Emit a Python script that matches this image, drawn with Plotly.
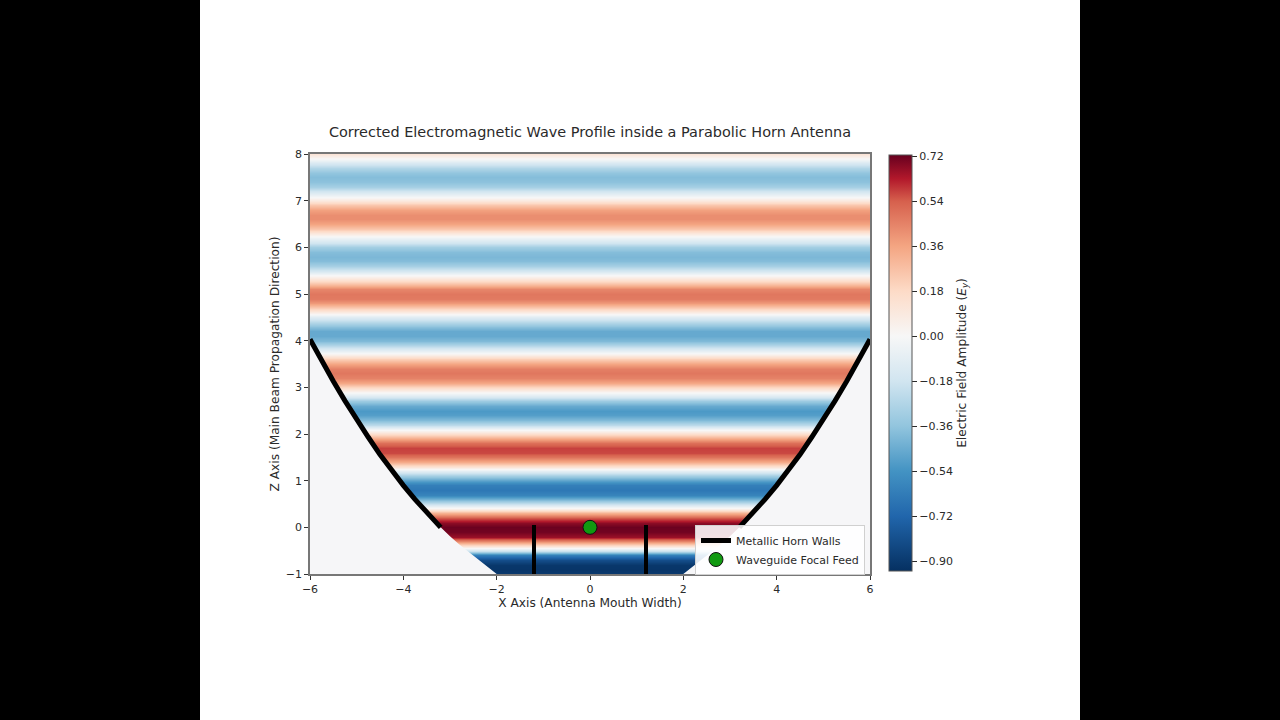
#!/usr/bin/env python3

import numpy as np
import plotly.graph_objects as go

# field value along the beam axis, one reading every 0.1 from z=-1 to z=8
field_amp = [
    -0.90, -0.92, -0.91, -0.82, -0.62, -0.20, 0.14, 0.45, 0.66, 0.71,
    0.72, 0.68, 0.55, 0.32, 0.06, -0.20, -0.44, -0.60, -0.65, -0.62,
    -0.50, -0.32, -0.10, 0.12, 0.34, 0.49, 0.57, 0.58, 0.50, 0.36,
    0.16, -0.04, -0.24, -0.40, -0.50, -0.52, -0.46, -0.33, -0.15, 0.02,
    0.20, 0.35, 0.45, 0.48, 0.46, 0.36, 0.22, 0.06, -0.11, -0.28,
    -0.40, -0.46, -0.46, -0.38, -0.25, -0.11, 0.05, 0.23, 0.39, 0.47,
    0.48, 0.44, 0.30, 0.14, -0.01, -0.16, -0.30, -0.39, -0.41, -0.39,
    -0.31, -0.18, -0.05, 0.11, 0.25, 0.36, 0.42, 0.42, 0.37, 0.25,
    0.11, -0.04, -0.18, -0.30, -0.37, -0.39, -0.36, -0.27, -0.14, -0.01,
    0.12,
]
z_levels = np.linspace(-1, 8, 91)
x_edges = [-6, 6]

# horn wall (right side, left side is the mirror)
wall_x = [3.2, 3.5, 3.75, 4.0, 4.25, 4.5, 4.75, 5.0, 5.25, 5.5, 5.75, 6.0]
wall_z = [0.0, 0.31, 0.60, 0.90, 1.22, 1.56, 1.93, 2.31, 2.71, 3.13, 3.57, 4.03]
# part of the outline below z=0, no wall is drawn there
lower_x = [2.0, 2.2, 2.4, 2.6, 2.8, 3.0]
lower_z = [-1.0, -0.84, -0.70, -0.54, -0.37, -0.19]

stub_x = [-1.2, 1.2]
stub_z = [-1.0, 0.05]
feed_x = [0]
feed_z = [0]

cb_ticks = [-0.90, -0.72, -0.54, -0.36, -0.18, 0.00, 0.18, 0.36, 0.54, 0.72]
cb_labels = ["−0.90", "−0.72", "−0.54", "−0.36", "−0.18", "0.00", "0.18", "0.36", "0.54", "0.72"]
vmin, vmax = -0.94, 0.725

stops = [(-0.94, "#053061"), (-0.72, "#2166ac"), (-0.54, "#4393c3"), (-0.36, "#92c5de"),
         (-0.18, "#d1e5f0"), (0.0, "#f7f7f7"), (0.18, "#fddbc7"), (0.36, "#f4a582"),
         (0.54, "#d6604d"), (0.63, "#b2182b"), (0.725, "#67001f")]
rdbu = [[(v - vmin) / (vmax - vmin), c] for v, c in stops]

# plot area in window pixels
L, R, T, B = 310, 870, 154, 574
W, H = 1280, 720
TEXT = "#2a2a2a"
FONT = "DejaVu Sans"

fig = go.Figure()

fig.add_trace(go.Heatmap(
    z=[[v, v] for v in field_amp], x=x_edges, y=z_levels,
    zmin=vmin, zmax=vmax, colorscale=rdbu, zsmooth="best", showscale=True,
    colorbar=dict(
        x=(889 - L) / (R - L), xanchor="left", xpad=0, ypad=0,
        y=(B - 571) / (B - T), yanchor="bottom", len=416 / (B - T), lenmode="fraction",
        thickness=23, thicknessmode="pixels",
        tickmode="array", tickvals=cb_ticks, ticktext=cb_labels,
        ticks="outside", ticklen=5, tickcolor=TEXT, tickwidth=1,
        tickfont=dict(family=FONT, size=11, color=TEXT),
        outlinecolor="#555555", outlinewidth=1,
        title=dict(text="Electric Field Amplitude (<i>E<sub>y</sub></i>)", side="right",
                   font=dict(family=FONT, size=12.2, color=TEXT)),
    ),
))

# area outside the horn has no field
out_x = lower_x + wall_x
out_z = lower_z + wall_z
for sign in (-1, 1):
    fig.add_trace(go.Scatter(
        x=[sign * v for v in out_x] + [sign * 6, sign * 2],
        y=out_z + [-1, -1],
        mode="lines", fill="toself", fillcolor="#f6f6f8", line=dict(width=0),
        showlegend=False, hoverinfo="skip",
    ))

for sign in (-1, 1):
    fig.add_trace(go.Scatter(
        x=[sign * v for v in wall_x], y=wall_z, mode="lines",
        line=dict(color="black", width=5), name="Metallic Horn Walls",
        legendgroup="walls", showlegend=sign == -1,
    ))

for sx in stub_x:
    fig.add_trace(go.Scatter(
        x=[sx, sx], y=stub_z, mode="lines", line=dict(color="black", width=4),
        showlegend=False,
    ))

fig.add_trace(go.Scatter(
    x=feed_x, y=feed_z, mode="markers", name="Waveguide Focal Feed",
    marker=dict(color="#119a11", size=14, line=dict(color="#111111", width=1)),
))

axis_style = dict(
    showgrid=False, zeroline=False, showline=True, mirror=True,
    linecolor="#777777", linewidth=1.5, ticks="outside", ticklen=4,
    tickcolor="#333333", tickfont=dict(family=FONT, size=11, color=TEXT),
)

fig.update_xaxes(range=[-6, 6], tickmode="array", tickvals=[-6, -4, -2, 0, 2, 4, 6],
                 title=dict(text="X Axis (Antenna Mouth Width)", standoff=1,
                            font=dict(family=FONT, size=12.2, color=TEXT)), **axis_style)
fig.update_yaxes(range=[-1, 8], tickmode="array", tickvals=list(range(-1, 9)),
                 title=dict(text="Z Axis (Main Beam Propagation Direction)", standoff=4,
                            font=dict(family=FONT, size=12.2, color=TEXT)), **axis_style)

fig.update_layout(
    width=W, height=H,
    margin=dict(l=L, r=W - R, t=T, b=H - B, autoexpand=False),
    paper_bgcolor="black", plot_bgcolor="#f6f6f8",
    title=dict(text="Corrected Electromagnetic Wave Profile inside a Parabolic Horn Antenna",
               x=(L + R) / 2 / W, xanchor="center", y=1 - 132 / H, yanchor="middle",
               font=dict(family=FONT, size=14.45, color=TEXT)),
    legend=dict(x=(695 - L) / (R - L), xanchor="left", y=(B - 525) / (B - T), yanchor="top",
                bgcolor="rgba(255,255,255,0.88)", bordercolor="#d0d0d0", borderwidth=1,
                font=dict(family=FONT, size=11, color=TEXT), tracegroupgap=0),
    # white slide between the black bars of the video frame
    shapes=[dict(type="rect", layer="below", xref="paper", yref="paper",
                 x0=(200 - L) / (R - L), x1=(1080 - L) / (R - L),
                 y0=(B - H) / (B - T), y1=B / (B - T),
                 fillcolor="white", line=dict(width=0))],
)

fig.write_html("out.html", config={"displayModeBar": False},
               post_script="document.body.style.margin='0';")
